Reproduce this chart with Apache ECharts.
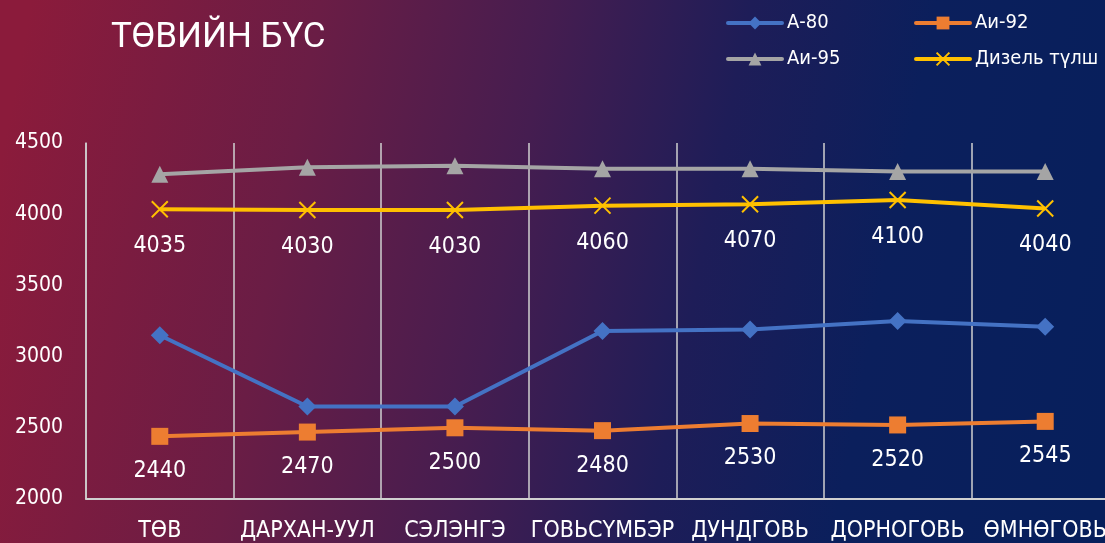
<!DOCTYPE html>
<html>
<head>
<meta charset="utf-8">
<script src="https://cdn.jsdelivr.net/npm/echarts@6/dist/echarts.min.js"></script>
<style>
html,body{margin:0;padding:0;width:1105px;height:543px;overflow:hidden;background:#3a1d52;}
#c{width:1119px;height:543px;}
</style>
</head>
<body>
<div id="c"></div>
<script>
var categories = ['ТӨВ', 'ДАРХАН-УУЛ', 'СЭЛЭНГЭ', 'ГОВЬСҮМБЭР', 'ДУНДГОВЬ', 'ДОРНОГОВЬ', 'ӨМНӨГОВЬ'];
var seriesNames = ['А-80', 'Аи-92', 'Аи-95', 'Дизель түлш'];
var a80 = [3150, 2650, 2650, 3180, 3190, 3250, 3210];
var ai92 = [2440, 2470, 2500, 2480, 2530, 2520, 2545];
var ai95 = [4280, 4330, 4340, 4320, 4320, 4300, 4300];
var diesel = [4035, 4030, 4030, 4060, 4070, 4100, 4040];
var yTicks = [2000, 2500, 3000, 3500, 4000, 4500];

var FONT = "'DejaVu Sans Condensed', 'Liberation Sans Narrow', 'Roboto', sans-serif";
var chart = echarts.init(document.getElementById('c'), null, {renderer: 'canvas'});

var labelStyle = {show: true, position: 'bottom', distance: 15, color: '#ffffff', fontSize: 23, fontFamily: FONT};

function legendAt(name, left, top) {
  return {
    data: [name], left: left, top: top, padding: 0, itemWidth: 54, itemHeight: 16,
    lineStyle: {width: 4, cap: 'round'},
    textStyle: {color: '#ffffff', fontSize: 20, fontFamily: FONT, padding: [0, 0, 0, 0]}
  };
}

var option = {
  animation: false,
  backgroundColor: new echarts.graphic.LinearGradient(0, 0.3, 1, 0.7, [
    {offset: 0, color: '#8b1b3b'},
    {offset: 0.25, color: '#6a1d45'},
    {offset: 0.45, color: '#451d50'},
    {offset: 0.62, color: '#1e1d58'},
    {offset: 0.78, color: '#0b1f5c'},
    {offset: 1, color: '#071f5c'}
  ]),
  title: {
    text: 'ТӨВИЙН БҮС', left: 106, top: 16,
    textStyle: {color: '#ffffff', fontSize: 35, fontWeight: 'normal', fontFamily: 'Roboto, sans-serif'}
  },
  legend: [
    legendAt(seriesNames[0], 726, 13),
    legendAt(seriesNames[1], 914, 13),
    legendAt(seriesNames[2], 726, 49),
    legendAt(seriesNames[3], 914, 49)
  ],
  grid: {left: 86, right: 0, top: 143, bottom: 43, containLabel: false},
  xAxis: {
    type: 'category', data: categories, boundaryGap: true,
    axisLine: {show: true, lineStyle: {color: '#d0d0d0', width: 2}},
    axisTick: {show: false},
    splitLine: {show: true, lineStyle: {color: '#d0d0d0', width: 1.5}},
    axisLabel: {interval: 0, color: '#ffffff', fontSize: 23, fontFamily: FONT, margin: 21}
  },
  yAxis: {
    type: 'value', min: yTicks[0], max: yTicks[yTicks.length - 1], interval: 500,
    axisLine: {show: true, lineStyle: {color: '#d0d0d0', width: 1.5}},
    axisTick: {show: false},
    splitLine: {show: false},
    axisLabel: {color: '#ffffff', fontSize: 21, fontFamily: FONT, margin: 23,
      formatter: function (v) { return String(v); }}
  },
  series: [
    {name: seriesNames[0], type: 'line', data: a80, symbol: 'diamond', symbolSize: 18,
      itemStyle: {color: '#4472c4'}, lineStyle: {color: '#4472c4', width: 4}},
    {name: seriesNames[1], type: 'line', data: ai92, symbol: 'rect', symbolSize: 17,
      itemStyle: {color: '#ed7d31'}, lineStyle: {color: '#ed7d31', width: 4}, label: labelStyle},
    {name: seriesNames[2], type: 'line', data: ai95, symbol: 'triangle', symbolSize: 17,
      itemStyle: {color: '#a5a5a5'}, lineStyle: {color: '#a5a5a5', width: 4}},
    {name: seriesNames[3], type: 'line', data: diesel,
      symbol: 'path://M0,0 L1,1 M1,0 L0,1', symbolSize: 16,
      itemStyle: {color: 'none', borderColor: '#ffc000', borderWidth: 2},
      lineStyle: {color: '#ffc000', width: 4}, label: labelStyle}
  ]
};
chart.setOption(option);
</script>
</body>
</html>
